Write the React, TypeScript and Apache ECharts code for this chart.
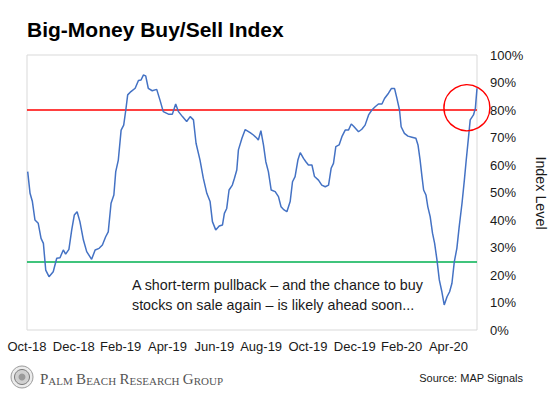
import React, { useEffect, useRef } from 'react';
import * as echarts from 'echarts';

// Tick labels every two months, starting at Oct-2018 (month offset 0)
const tickLabels = ['Oct-18', 'Dec-18', 'Feb-19', 'Apr-19', 'Jun-19', 'Aug-19', 'Oct-19', 'Dec-19', 'Feb-20', 'Apr-20'];

// Month offsets from Oct-2018 (x) and index level in % (y)
const monthOffsets = [
  0.03, 0.13, 0.23, 0.34, 0.48, 0.6, 0.7, 0.8, 0.94, 1.12, 1.27, 1.41, 1.55, 1.65, 1.79, 1.91, 2.02, 2.14, 2.26, 2.41,
  2.55, 2.76, 2.91, 3.08, 3.22, 3.36, 3.47, 3.59, 3.71, 3.79, 3.9, 4.02, 4.13, 4.22, 4.3, 4.44, 4.62, 4.76, 4.87, 4.97,
  5.07, 5.18, 5.35, 5.54, 5.68, 5.82, 6.04, 6.21, 6.35, 6.47, 6.64, 6.82, 6.97, 7.11, 7.22, 7.39, 7.53, 7.68, 7.82, 7.92,
  8.06, 8.21, 8.35, 8.43, 8.53, 8.63, 8.77, 8.86, 8.96, 9.03, 9.18, 9.32, 9.53, 9.67, 9.82, 9.88, 9.99, 10.1, 10.2, 10.31,
  10.43, 10.6, 10.74, 10.85, 10.95, 11.1, 11.24, 11.34, 11.45, 11.57, 11.67, 11.81, 11.91, 12.02, 12.17, 12.28, 12.45, 12.59, 12.74, 12.88,
  12.99, 13.09, 13.19, 13.33, 13.45, 13.59, 13.73, 13.85, 13.94, 14.16, 14.3, 14.44, 14.59, 14.73, 14.87, 15.01, 15.16, 15.27, 15.44, 15.56,
  15.7, 15.8, 15.91, 15.98, 16.12, 16.27, 16.44, 16.61, 16.7, 16.79, 16.87, 16.94, 17.04, 17.12, 17.22, 17.32, 17.41, 17.51, 17.61, 17.72,
  17.82, 17.94, 18.05, 18.15, 18.25, 18.36, 18.46, 18.58, 18.68, 18.76, 18.86, 18.93, 19.07, 19.15, 19.22,
];
const indexLevels = [
  57.6, 49.7, 46.7, 40.0, 38.8, 33.3, 31.5, 21.8, 19.4, 21.2, 26.1, 26.3, 29.1, 27.6, 29.3, 36.4, 41.8, 43.0, 39.4, 32.7,
  28.5, 25.7, 29.1, 29.7, 30.9, 33.9, 35.7, 46.1, 49.1, 57.6, 61.8, 72.7, 74.5, 80.0, 85.5, 86.7, 87.9, 90.7, 90.9, 92.7,
  92.4, 87.9, 87.0, 87.5, 83.6, 79.4, 78.5, 78.5, 82.2, 79.4, 77.6, 75.8, 77.6, 76.4, 67.9, 61.8, 55.2, 49.7, 46.7, 39.4,
  36.4, 37.8, 38.2, 42.4, 44.2, 50.9, 52.7, 55.2, 58.2, 65.5, 69.7, 72.9, 71.8, 70.9, 69.7, 69.1, 72.5, 67.3, 61.2, 57.6,
  50.9, 50.3, 48.5, 44.8, 43.9, 43.0, 46.7, 53.9, 55.8, 61.8, 64.5, 62.4, 61.2, 60.0, 60.0, 55.8, 54.5, 52.7, 52.1, 52.7,
  58.8, 60.6, 66.7, 67.3, 70.3, 72.7, 72.7, 74.9, 74.2, 72.1, 73.0, 74.5, 78.2, 80.0, 81.2, 82.2, 82.2, 84.2, 86.1, 87.8,
  87.8, 84.2, 80.0, 73.9, 71.5, 70.5, 70.1, 69.7, 67.3, 61.8, 55.8, 50.9, 49.1, 44.8, 41.2, 35.2, 31.5, 25.5, 18.2, 13.9,
  9.1, 12.1, 13.9, 17.0, 24.8, 29.7, 37.6, 46.1, 54.5, 61.8, 70.3, 76.4, 78.2, 80.6, 87.9,
];

const overboughtLevel = 80;
const oversoldLevel = 25;
const highlightPoint = [18.79, 80.8];

const titleText = 'Big-Money Buy/Sell Index';
const yAxisTitle = 'Index Level';
const annotationLines = [
  'A short-term pullback \u2013 and the chance to buy',
  'stocks on sale again \u2013 is likely ahead soon...',
];
const sourceText = 'Source: MAP Signals';

export default function App() {
  const ref = useRef<HTMLDivElement>(null);

  useEffect(() => {
    if (!ref.current) return;
    const chart = echarts.init(ref.current, null, { renderer: 'svg' });
    const font = "'Liberation Sans', Arial, Helvetica, sans-serif";
    const serif = "'Liberation Serif', 'Times New Roman', serif";
    const data = monthOffsets.map((m, i) => [m, indexLevels[i]]);

    chart.setOption({
      animation: false,
      backgroundColor: '#ffffff',
      grid: {
        left: 27,
        right: 83,
        top: 55,
        bottom: 67,
        show: true,
        borderColor: '#d9d9d9',
        borderWidth: 1,
        backgroundColor: 'transparent',
      },
      xAxis: {
        type: 'value',
        min: 0,
        max: 'dataMax',
        interval: 2,
        axisLine: { show: false },
        axisTick: { show: false },
        splitLine: { show: false },
        axisLabel: {
          show: true,
          margin: 10,
          fontSize: 13,
          fontFamily: font,
          color: '#1a1a1a',
          showMaxLabel: false,
          formatter: (v: number) => {
            const r = Math.round(v);
            if (Math.abs(v - r) > 1e-6 || r % 2 !== 0) return '';
            return tickLabels[r / 2] ?? '';
          },
        },
      },
      yAxis: {
        type: 'value',
        position: 'right',
        min: 0,
        max: 100,
        interval: 10,
        axisLine: { show: false },
        axisTick: { show: false },
        splitLine: { show: false },
        axisLabel: {
          margin: 13,
          fontSize: 13,
          fontFamily: font,
          color: '#1a1a1a',
          formatter: '{value}%',
        },
      },
      series: [
        {
          type: 'line',
          data,
          showSymbol: false,
          symbol: 'none',
          lineStyle: { color: '#4472c4', width: 1.5 },
          z: 3,
          markLine: {
            silent: true,
            symbol: 'none',
            label: { show: false },
            z: 2,
            data: [
              { yAxis: overboughtLevel, lineStyle: { color: '#ff0000', width: 1.5, type: 'solid' } },
              { yAxis: oversoldLevel, lineStyle: { color: '#00b050', width: 1.5, type: 'solid' } },
            ],
          },
        },
      ],
    });

    const [cx, cy] = chart.convertToPixel({ gridIndex: 0 }, highlightPoint) as number[];

    chart.setOption({
      graphic: [
        {
          type: 'text',
          x: 27,
          y: 29,
          style: {
            text: titleText,
            font: `bold 21px ${font}`,
            fill: '#000000',
            verticalAlign: 'middle',
            align: 'left',
          },
        },
        {
          type: 'text',
          x: 541,
          y: 193,
          rotation: -Math.PI / 2,
          style: {
            text: yAxisTitle,
            font: `14.3px ${font}`,
            fill: '#1a1a1a',
            align: 'center',
            verticalAlign: 'middle',
          },
        },
        {
          type: 'text',
          x: 132,
          y: 285,
          style: {
            text: annotationLines[0],
            font: `14.3px ${font}`,
            fill: '#1a1a1a',
            align: 'left',
            verticalAlign: 'middle',
          },
        },
        {
          type: 'text',
          x: 132,
          y: 305,
          style: {
            text: annotationLines[1],
            font: `14.3px ${font}`,
            fill: '#1a1a1a',
            align: 'left',
            verticalAlign: 'middle',
          },
        },
        {
          type: 'circle',
          shape: { cx, cy, r: 23 },
          style: { fill: 'none', stroke: '#ff0000', lineWidth: 1.5 },
          z: 10,
        },
        {
          type: 'group',
          x: 22,
          y: 377,
          children: [
            { type: 'circle', shape: { cx: 0, cy: 0, r: 11 }, style: { fill: '#ececec', stroke: '#9a9a9a', lineWidth: 1 } },
            { type: 'circle', shape: { cx: 0, cy: 0, r: 7.5 }, style: { fill: '#d0d0d0', stroke: '#7a7a7a', lineWidth: 1 } },
            { type: 'circle', shape: { cx: 0, cy: 0, r: 3.5 }, style: { fill: '#9a9a9a' } },
          ],
        },
        {
          type: 'text',
          x: 40,
          y: 378,
          style: {
            text: '{b|P}{s|ALM} {b|B}{s|EACH} {b|R}{s|ESEARCH} {b|G}{s|ROUP}',
            fill: '#555555',
            verticalAlign: 'middle',
            align: 'left',
            rich: {
              b: { fontSize: 15, fontFamily: serif, fill: '#555555', verticalAlign: 'bottom', lineHeight: 16 },
              s: { fontSize: 11, fontFamily: serif, fill: '#555555', verticalAlign: 'bottom', lineHeight: 16 },
            },
          },
        },
        {
          type: 'text',
          x: 523,
          y: 378,
          style: {
            text: sourceText,
            font: `11px ${font}`,
            fill: '#1a1a1a',
            align: 'right',
            verticalAlign: 'middle',
          },
        },
      ],
    });

    return () => chart.dispose();
  }, []);

  return (
    <div
      ref={ref}
      style={{ position: 'fixed', left: 0, top: 0, width: 560, height: 397, background: '#ffffff' }}
    />
  );
}
